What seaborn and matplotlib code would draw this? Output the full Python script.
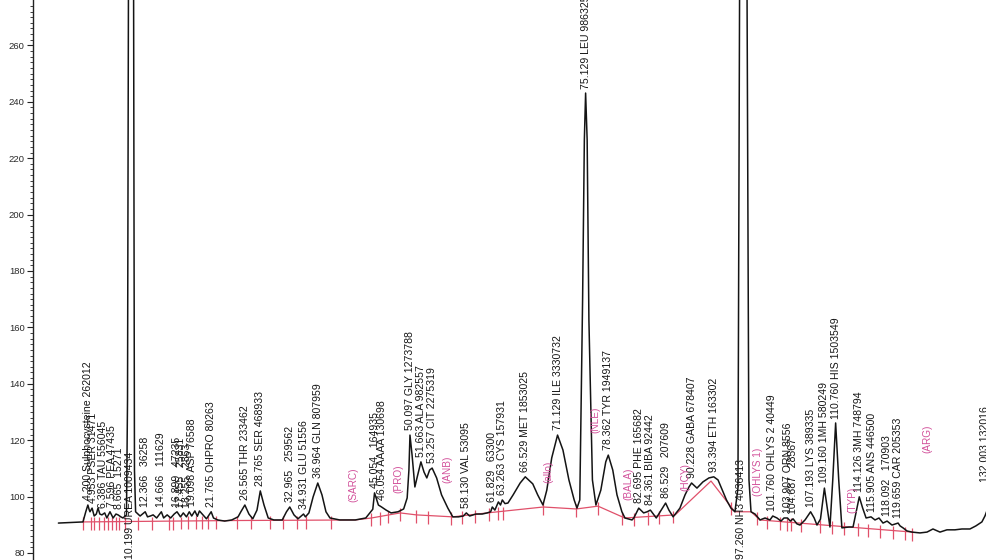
import numpy as np
import pandas as pd
import matplotlib
matplotlib.use("Agg")
import matplotlib.pyplot as plt
from matplotlib import font_manager
import seaborn as sns

# ---------------- data ----------------
trace_time = [0.0, 3.5, 3.9, 4.2, 4.4, 4.5, 4.8, 5.1, 5.4, 5.65, 5.9, 6.2, 6.6, 6.9, 7.35, 7.8,
              8.2, 8.5, 8.9, 9.2, 9.7, 9.85, 10.0, 10.7, 10.84, 11.0, 11.64, 12.37, 12.7, 13.1,
              13.5, 14.0, 14.67, 15.0, 15.5, 16.0, 16.5, 16.9, 17.4, 17.8, 18.25, 18.65, 19.0,
              19.45, 19.8, 20.1, 20.5, 21.1, 21.77, 22.1, 22.7, 23.7, 24.7, 25.6, 26.0, 26.57,
              27.15, 27.7, 28.3, 28.77, 29.3, 29.9, 30.7, 31.9, 32.5, 32.97, 33.57, 34.14, 34.93,
              35.2, 35.7, 36.3, 36.96, 37.56, 38.13, 38.7, 40.1, 42.3, 43.8, 44.8, 45.05, 45.6,
              46.05, 46.7, 47.4, 48.4, 49.2, 49.7, 49.95, 50.1, 50.4, 50.8, 51.1, 51.66, 52.1,
              52.5, 52.9, 53.26, 53.9, 54.6, 55.5, 56.2, 57.0, 57.7, 58.13, 58.6, 59.5, 60.4,
              61.1, 61.6, 61.83, 62.2, 62.7, 63.0, 63.26, 63.64, 64.06, 64.8, 65.8, 66.53, 67.6,
              68.3, 69.05, 69.6, 70.3, 71.13, 71.9, 72.75, 73.5, 73.9, 74.3, 74.7, 74.95, 75.13,
              75.35, 75.6, 76.1, 76.6, 77.3, 78.0, 78.36, 79.0, 79.6, 80.3, 80.74, 81.74, 82.0,
              82.7, 83.4, 83.9, 84.36, 85.2, 85.9, 86.53, 87.0, 87.6, 88.57, 89.3, 89.86, 90.23,
              91.0, 91.85, 92.7, 93.39, 94.0, 94.6, 95.2, 95.84, 96.41, 96.84, 97.1, 98.1, 98.41,
              98.7, 99.27, 99.98, 100.7, 101.4, 101.8, 102.4, 102.97, 103.4, 103.9, 104.3, 104.69,
              105.25, 105.68, 106.4, 107.19, 107.7, 108.1, 108.6, 109.16, 109.6, 109.95, 110.35,
              110.76, 111.2, 111.65, 112.67, 113.24, 113.6, 114.13, 114.6, 115.1, 115.8, 116.37,
              116.94, 117.51, 118.09, 118.79, 119.66, 119.94, 120.36, 120.93, 121.64, 122.78,
              123.78, 124.63, 125.63, 126.62, 127.76, 128.76, 129.9, 130.75, 131.6, 132.04, 132.4]
trace_signal = [90.6, 91.0, 94.6, 97.0, 95.2, 94.6, 95.9, 93.1, 93.8, 95.9, 93.8, 93.5, 94.2, 92.4,
                94.6, 92.4, 93.8, 93.5, 92.8, 92.4, 93.5, 134.3, 300.0, 300.0, 109.4, 94.6, 93.1,
                94.6, 92.8, 93.1, 93.5, 92.4, 94.6, 92.4, 93.5, 92.4, 93.8, 94.6, 92.8, 94.2, 92.8,
                94.6, 93.1, 94.9, 93.0, 94.9, 93.8, 92.1, 94.6, 92.4, 91.7, 91.3, 91.7, 92.8, 94.6,
                97.0, 93.8, 92.1, 95.2, 102.0, 97.0, 92.4, 91.7, 91.7, 94.6, 96.3, 93.5, 92.1, 93.8,
                92.8, 94.2, 99.9, 104.8, 100.6, 94.6, 92.4, 91.7, 91.7, 92.4, 95.5, 101.3, 97.0,
                96.3, 95.2, 94.2, 94.6, 95.6, 99.5, 109.4, 121.8, 114.7, 103.4, 106.6, 112.3, 108.7,
                106.6, 109.4, 110.1, 106.6, 100.6, 95.9, 92.8, 92.8, 93.1, 94.2, 93.1, 93.8, 93.8,
                94.2, 94.6, 96.3, 95.2, 98.1, 97.0, 98.8, 97.5, 97.7, 100.6, 104.8, 107.0, 104.5,
                100.6, 97.0, 102.3, 113.7, 121.8, 116.5, 105.9, 98.8, 95.9, 98.8, 169.7, 226.5, 243.1,
                226.5, 162.6, 105.9, 97.0, 102.3, 112.3, 114.7, 109.4, 100.6, 94.6, 92.4, 91.7, 92.4,
                95.9, 94.2, 94.6, 95.2, 92.4, 95.2, 97.7, 95.2, 92.8, 95.9, 100.6, 103.4, 104.8,
                103.0, 105.2, 106.6, 107.0, 105.9, 102.3, 98.8, 95.9, 94.6, 103.0, 300.0, 300.0, 105.9,
                94.6, 93.8, 91.7, 92.4, 91.7, 93.1, 92.4, 91.3, 92.4, 92.4, 91.3, 92.1,
                90.3, 89.9, 91.7, 94.6, 92.4, 89.9, 92.0, 103.0, 95.2, 89.2, 105.9,
                126.1, 105.9, 88.9, 89.2, 89.2, 93.5, 99.9, 96.0, 92.4, 92.8, 91.7,
                92.4, 90.6, 91.3, 89.9, 90.6, 89.6, 88.9, 87.8, 87.4, 87.1,
                87.4, 88.5, 87.4, 88.2, 88.2, 88.5, 88.5, 89.6, 91.0, 93.1, 95.5]

baseline_time = [3.5, 25.0, 42.3, 44.6, 48.7, 51.0, 56.2, 61.1, 69.1, 73.8, 76.9, 80.7, 87.9,
                 93.0, 96.4, 98.7, 100.0, 121.7]
baseline_signal = [91.0, 91.5, 91.7, 92.4, 94.2, 93.5, 92.8, 94.2, 96.3, 95.6, 96.6, 92.4, 93.5,
                   105.5, 94.6, 94.6, 91.7, 87.4]

boundary_times = [3.5, 4.6, 5.1, 5.8, 6.5, 7.0, 7.6, 8.2, 8.7, 9.5, 11.3, 13.3, 15.7, 16.4, 17.5,
                  18.5, 19.6, 20.4, 21.3, 22.4, 25.5, 27.5, 30.2, 32.0, 34.0, 35.3, 38.9, 44.6,
                  45.8, 47.0, 48.7, 50.9, 52.6, 55.9, 57.5, 59.4, 61.4, 62.6, 63.3, 69.1, 73.8,
                  76.9, 80.3, 82.0, 84.0, 85.6, 87.6, 95.8, 99.5, 101.0, 102.9, 103.8, 104.4,
                  105.8, 108.6, 110.3, 112.0, 113.9, 115.4, 117.1, 119.0, 120.7, 121.7]

peak_times = [4.200, 4.953, 6.386, 7.596, 8.665, 10.199, 12.366, 14.666, 16.899, 17.455,
              18.255, 19.098, 21.765, 26.565, 28.765, 32.965, 34.931, 36.964, 45.054, 46.054,
              50.097, 51.663, 53.257, 58.130, 61.829, 63.263, 66.529, 71.129, 75.129, 78.362,
              82.695, 84.361, 86.529, 90.228, 93.394, 97.260, 101.760, 103.907, 104.687,
              107.193, 109.160, 110.760, 114.126, 115.905, 118.092, 119.659, 132.000]
peak_texts = ["4.200 Sulphocysteine 262012", "4.953 PSER 31471", "6.386 TAU 556045",
              "7.596 PEA 47435", "8.665  15271", "10.199 UREA 1009434", "12.366   36258",
              "14.666   111629", "16.899   47235", "17.455   25831", "18.255   2863",
              "19.098 ASP 76588", "21.765 OHPRO 80263", "26.565 THR 233462",
              "28.765 SER 468933", "32.965   259562", "34.931 GLU 51556", "36.964 GLN 807959",
              "45.054   164935", "46.054 AAAA 130698", "50.097 GLY 1273788",
              "51.663 ALA 982557", "53.257 CIT 2275319", "58.130 VAL 53095",
              "61.829   63300", "63.263 CYS 157931", "66.529 MET 1853025",
              "71.129 ILE 3330732", "75.129 LEU 9863257", "78.362 TYR 1949137",
              "82.695 PHE 165682", "84.361 BIBA 92442", "86.529   207609",
              "90.228 GABA 678407", "93.394 ETH 163302", "97.260 NH3 4036413",
              "101.760 OHLYS 2 40449", "103.907 ORN 8556", "104.687   28567",
              "107.193 LYS 389335", "109.160 1MH 580249", "110.760 HIS 1503549",
              "114.126 3MH 748794", "115.905 ANS 446500", "118.092   170903",
              "119.659 CAR 205353", "132.003 132016"]

missing_times = [42.0, 48.4, 55.5, 69.8, 76.5, 81.2, 89.3, 99.7, 113.2, 123.8]
missing_texts = ["(SARC)", "(PRO)", "(ANB)", "(allo)", "(NLE)", "(BALA)", "(HCY)",
                 "(OHLYS 1)", "(TYP)", "(ARG)"]

y_ticks = [80, 100, 120, 140, 160, 180, 200, 220, 240, 260]

# ---------------- layout (label lift above baseline / peak) ----------------
missing_lift = [6.4, 7.3, 11.8, 8.5, 26.0, 6.2, 5.0, 8.0, 5.0, 28.0]
peak_gap = {132.000: 10.0}

# ---------------- drawing ----------------
sns.set_theme(style="white")
names = {f.name for f in font_manager.fontManager.ttflist}
if "Liberation Sans Narrow" in names:
    label_family = ["Liberation Sans Narrow", "DejaVu Sans"]
    label_size, pink_size = 9.0, 8.4
else:
    label_family = ["Liberation Sans", "DejaVu Sans"]
    label_size, pink_size = 7.6, 7.2
plt.rcParams["font.family"] = ["Liberation Sans", "DejaVu Sans"]

TRACE = "#141414"
RED = "#e0506a"
PINK = "#d2509a"
YMIN, YMAX = 77.5, 276.1
XMIN, XMAX = -3.62, 132.33

fig = plt.figure(figsize=(9.87, 5.6), dpi=100)
fig.patch.set_facecolor("white")
ax = fig.add_axes([33 / 987, 0.0, 1 - 33 / 987, 1.0])

trace = pd.DataFrame({"time": trace_time, "signal": trace_signal})
base = pd.DataFrame({"time": baseline_time, "signal": baseline_signal})

sns.lineplot(data=base, x="time", y="signal", ax=ax, color=RED, lw=0.9,
             estimator=None, sort=False, zorder=2)
bt = np.array(boundary_times)
bv = np.interp(bt, baseline_time, baseline_signal)
ax.vlines(bt, bv - 3.0, bv + 1.6, color=RED, lw=0.9, zorder=2)
sns.lineplot(data=trace, x="time", y="signal", ax=ax, color=TRACE, lw=1.1,
             estimator=None, sort=False, zorder=3)

grid = np.linspace(0, 132.4, 6000)
sig = np.interp(grid, trace_time, trace_signal)
for t, txt in zip(peak_times, peak_texts):
    win = (grid > t - 0.35) & (grid < t + 0.35)
    top = sig[win].max() if win.any() else np.interp(t, trace_time, trace_signal)
    if top > YMAX:
        y = 78.0
    else:
        y = top + peak_gap.get(t, 1.8)
    ax.text(t, y, txt, rotation=90, ha="center", va="bottom", fontsize=label_size,
            family=label_family, color="#151515", zorder=4)

for t, txt, lift in zip(missing_times, missing_texts, missing_lift):
    y = np.interp(t, baseline_time, baseline_signal) + lift
    ax.text(t, y, txt, rotation=90, ha="center", va="bottom", fontsize=pink_size,
            family=label_family, color=PINK, zorder=4)

ax.set_xlim(XMIN, XMAX)
ax.set_ylim(YMIN, YMAX)
ax.set_yticks(y_ticks)
ax.set_yticks(np.arange(80, 276, 2), minor=True)
ax.set_xticks([])
ax.tick_params(axis="y", which="major", direction="out", length=4, width=0.8,
               color="#222222", labelsize=6.8, labelcolor="#2a2a2a", pad=2, left=True)
ax.tick_params(axis="y", which="minor", direction="out", length=2.5, width=0.6,
               color="#222222", left=True)
ax.set_xlabel("")
ax.set_ylabel("")
for s in ["top", "right", "bottom"]:
    ax.spines[s].set_visible(False)
ax.spines["left"].set_color("#222222")
ax.spines["left"].set_linewidth(1.0)
ax.set_facecolor("white")

fig.savefig("out.png", dpi=100, facecolor="white")
